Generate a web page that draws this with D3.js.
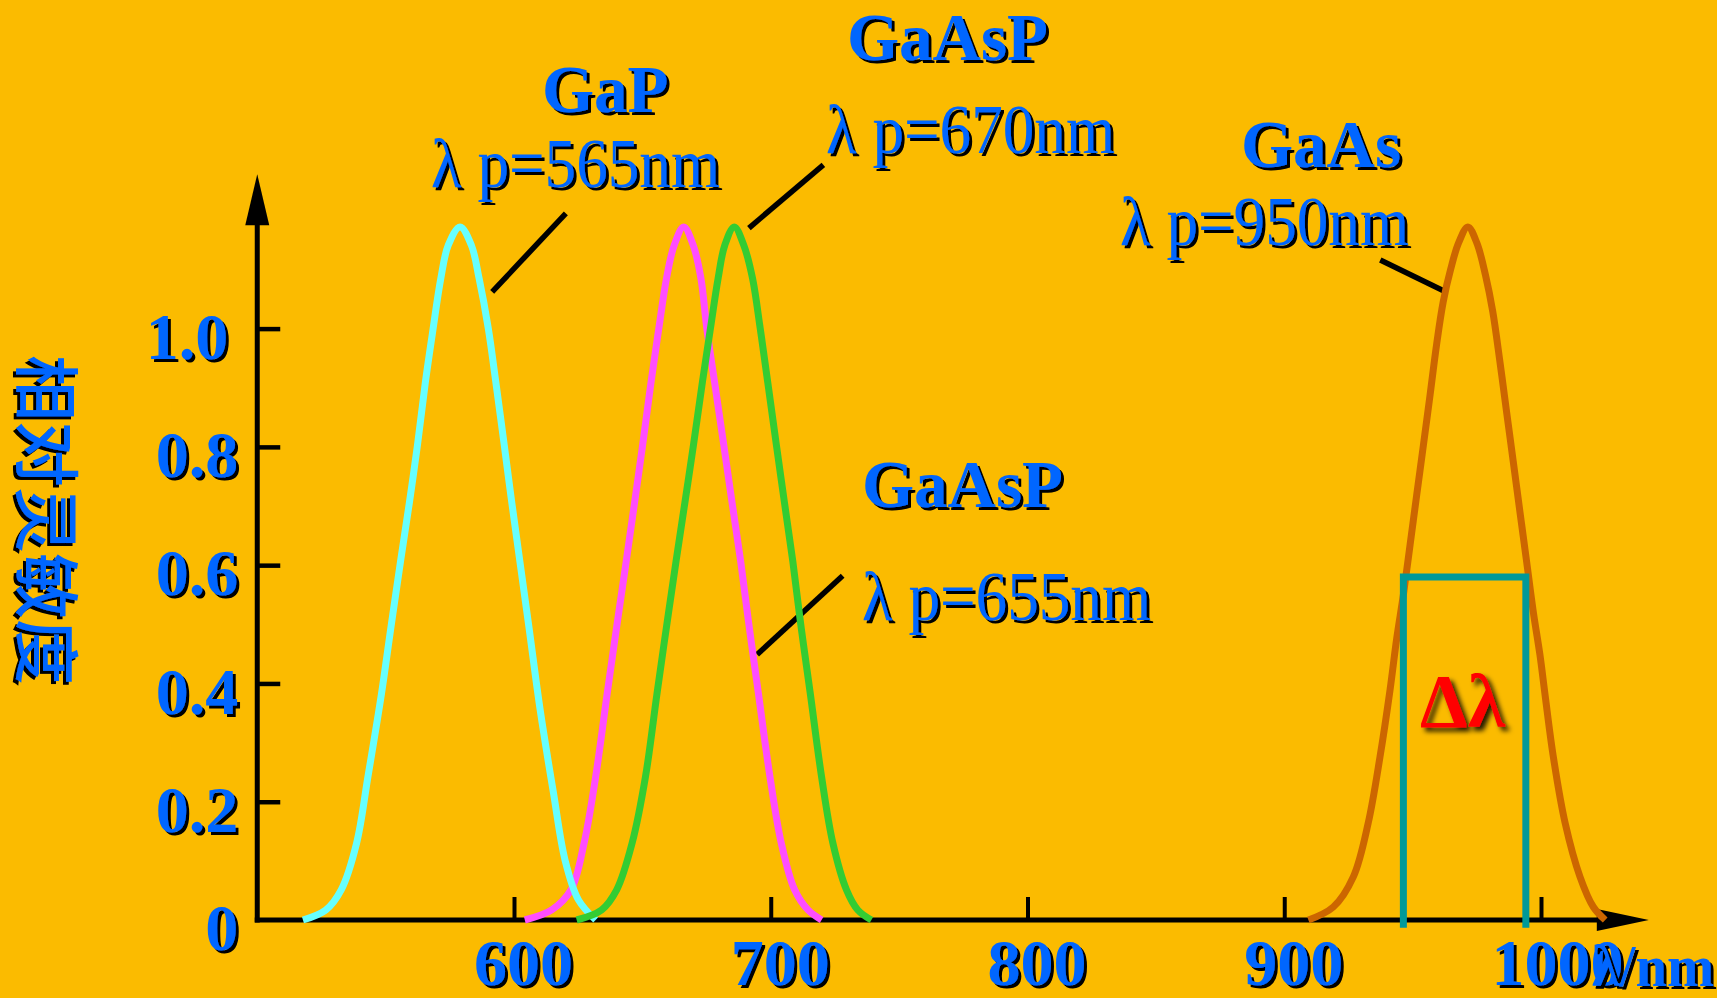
<!DOCTYPE html>
<html>
<head>
<meta charset="utf-8">
<script src="https://cdn.jsdelivr.net/npm/d3@7/dist/d3.min.js"></script>
<style>
    html, body { margin: 0; padding: 0; background: #FBBB00; }
    svg { display: block; }
</style>
</head>
<body>
<div id="chart"></div>
<script>
"use strict";

// axis ticks
const xTicks = [600, 700, 800, 900, 1000];
const yTicks = [0, 0.2, 0.4, 0.6, 0.8, 1.0];
const yTickLabels = ["0", "0.2", "0.4", "0.6", "0.8", "1.0"];

// spectra: [wavelength nm, relative sensitivity]
const gapCurve = [
    [517.8, 0], [526.7, 0.017], [532.7, 0.051], [538.7, 0.130], [543.1, 0.242],
    [548.4, 0.383], [552.1, 0.496], [555.8, 0.606], [559.3, 0.707], [562.4, 0.803],
    [565.5, 0.910], [568.5, 1.000], [571.5, 1.085], [574.4, 1.141], [579.0, 1.172],
    [583.4, 1.141], [586.4, 1.085], [590.0, 1.000], [592.9, 0.910], [596.2, 0.803],
    [599.1, 0.707], [602.3, 0.606], [605.8, 0.496], [610.2, 0.355], [615.4, 0.214],
    [619.9, 0.101], [625.1, 0.034], [631.8, 0]
];
const gaasp655Curve = [
    [604.2, 0], [614.7, 0.017], [622.2, 0.051], [627.3, 0.130], [631.8, 0.242],
    [636.3, 0.383], [640.0, 0.496], [643.7, 0.606], [647.0, 0.707], [650.1, 0.803],
    [653.4, 0.910], [656.4, 1.000], [659.4, 1.085], [662.4, 1.141], [666.1, 1.172],
    [669.8, 1.141], [672.8, 1.085], [675.1, 1.000], [678.1, 0.910], [681.7, 0.803],
    [684.9, 0.707], [688.3, 0.606], [691.6, 0.496], [695.2, 0.383], [699.7, 0.242],
    [704.1, 0.130], [709.3, 0.051], [714.5, 0.017], [719.8, 0]
];
const gaasp670Curve = [
    [624.4, 0], [634.1, 0.017], [640.0, 0.051], [646.0, 0.130], [651.2, 0.242],
    [655.7, 0.383], [659.4, 0.496], [663.1, 0.606], [666.6, 0.707], [669.9, 0.803],
    [673.4, 0.910], [676.5, 1.000], [679.5, 1.085], [682.1, 1.141], [685.8, 1.172],
    [689.5, 1.141], [692.9, 1.085], [695.9, 1.000], [698.8, 0.910], [702.2, 0.803],
    [705.3, 0.707], [708.6, 0.606], [711.8, 0.496], [715.4, 0.383], [719.8, 0.242],
    [724.2, 0.130], [729.5, 0.051], [733.9, 0.017], [739.2, 0]
];
const gaasCurve = [
    [909.4, 0], [919.1, 0.022], [926.9, 0.073], [932.7, 0.164], [937.3, 0.276],
    [941.2, 0.389], [943.8, 0.476], [946.4, 0.550], [949.0, 0.634], [951.6, 0.719],
    [954.2, 0.803], [956.8, 0.888], [959.3, 0.972], [961.9, 1.045], [964.8, 1.100],
    [967.9, 1.145], [971.5, 1.172], [975.0, 1.145], [978.4, 1.090], [981.2, 1.029],
    [984.0, 0.944], [986.6, 0.859], [989.2, 0.775], [991.8, 0.690], [994.4, 0.606],
    [997.0, 0.521], [999.6, 0.448], [1001.6, 0.380], [1004.8, 0.276], [1009.4, 0.164],
    [1015.2, 0.073], [1020.4, 0.022], [1025.0, 0]
];

// half-width box on the GaAs curve: [left nm, right nm, top value, bottom value]
const deltaBox = [946.4, 994.1, 0.58, -0.013];

// leader lines from labels to curves: [[nm, value], [nm, value]]
const leaders = [
    [[620.2, 1.195], [591.5, 1.062]],
    [[720.5, 1.277], [691.5, 1.170]],
    [[728.0, 0.582], [694.7, 0.449]],
    [[937.4, 1.116], [962.0, 1.064]]
];

const width = 1717;
const height = 998;
const blue = "#0066FF";
const serif = "'Liberation Serif', 'Times New Roman', serif";

const x = d3.scaleLinear().domain([600, 1000]).range([514, 1541]);
const y = d3.scaleLinear().domain([0, 1]).range([920, 328.6]);

const svg = d3.select("#chart")
    .append("svg")
    .attr("width", width)
    .attr("height", height);

svg.append("rect")
    .attr("width", width)
    .attr("height", height)
    .attr("fill", "#FBBB00");

const defs = svg.append("defs");
defs.append("filter")
    .attr("id", "shadow")
    .attr("x", "-10%").attr("y", "-10%")
    .attr("width", "130%").attr("height", "130%")
    .append("feDropShadow")
    .attr("dx", 3).attr("dy", 3)
    .attr("stdDeviation", 0.3)
    .attr("flood-color", "#000")
    .attr("flood-opacity", 1);
defs.append("filter")
    .attr("id", "soft")
    .attr("x", "-20%").attr("y", "-20%")
    .attr("width", "150%").attr("height", "150%")
    .append("feDropShadow")
    .attr("dx", 4).attr("dy", 4)
    .attr("stdDeviation", 2.5)
    .attr("flood-color", "#000")
    .attr("flood-opacity", 0.85);

// axes lines + arrows
const x0 = x(500);
const y0 = y(0);
const yTip = y(1.261);
const xTip = x(1042);

svg.append("line")
    .attr("x1", x0).attr("y1", y0 + 2.5)
    .attr("x2", x0).attr("y2", yTip + 30)
    .attr("stroke", "#000").attr("stroke-width", 5);
svg.append("path")
    .attr("d", `M${x0},${yTip} L${x0 - 12},${yTip + 51} L${x0 + 12},${yTip + 51} Z`)
    .attr("fill", "#000");

svg.append("line")
    .attr("x1", x0 - 2.5).attr("y1", y0)
    .attr("x2", xTip - 30).attr("y2", y0)
    .attr("stroke", "#000").attr("stroke-width", 5);
svg.append("path")
    .attr("d", `M${xTip},${y0} L${xTip - 52},${y0 - 11} L${xTip - 52},${y0 + 11} Z`)
    .attr("fill", "#000");

// x axis ticks and labels
const xAxis = d3.axisBottom(x)
    .tickValues(xTicks)
    .tickSize(-23)
    .tickPadding(18)
    .tickFormat(d3.format("d"));
const gx = svg.append("g")
    .attr("transform", `translate(0,${y0})`)
    .call(xAxis);
gx.select(".domain").remove();
gx.selectAll(".tick line").attr("stroke", "#000").attr("stroke-width", 4);
gx.selectAll(".tick text")
    .attr("dx", d => d === 1000 ? 16 : 9)
    .attr("fill", blue)
    .attr("filter", "url(#shadow)")
    .style("font-family", serif)
    .style("font-weight", "bold")
    .style("font-size", "66px");

// y axis ticks and labels
const yAxis = d3.axisLeft(y)
    .tickValues(yTicks)
    .tickSize(-23)
    .tickPadding(19)
    .tickFormat((d, i) => yTickLabels[i]);
const gy = svg.append("g")
    .attr("transform", `translate(${x0},0)`)
    .call(yAxis);
gy.select(".domain").remove();
gy.selectAll(".tick line").attr("stroke", "#000").attr("stroke-width", 4.5);
gy.selectAll(".tick").filter(d => d === 0).select("line").remove();
gy.selectAll(".tick text")
    .attr("dy", "0.45em")
    .attr("dx", d => d === 1 ? -10 : 0)
    .attr("fill", blue)
    .attr("filter", "url(#shadow)")
    .style("font-family", serif)
    .style("font-weight", "bold")
    .style("font-size", "66px");

// axis titles
svg.append("text")
    .attr("transform", "translate(51,520) rotate(90)")
    .attr("text-anchor", "middle")
    .attr("dominant-baseline", "central")
    .attr("fill", blue)
    .attr("filter", "url(#shadow)")
    .style("font-family", "'Noto Sans CJK SC', sans-serif")
    .style("font-weight", "500")
    .style("font-size", "66px")
    .text("相对灵敏度");

svg.append("text")
    .attr("x", 1592).attr("y", 986)
    .attr("fill", blue)
    .attr("filter", "url(#shadow)")
    .style("font-family", serif)
    .style("font-weight", "bold")
    .style("font-size", "60px")
    .attr("textLength", 122)
    .attr("lengthAdjust", "spacingAndGlyphs")
    .text("λ/nm");

// leader lines
svg.append("g").selectAll("line")
    .data(leaders)
    .join("line")
    .attr("x1", d => x(d[0][0])).attr("y1", d => y(d[0][1]))
    .attr("x2", d => x(d[1][0])).attr("y2", d => y(d[1][1]))
    .attr("stroke", "#000")
    .attr("stroke-width", 5.5);

// spectra
const line = d3.line()
    .x(d => x(d[0]))
    .y(d => y(d[1]))
    .curve(d3.curveCatmullRom.alpha(0.5));

const series = [
    { data: gaasp655Curve, color: "#FF4DFF" },
    { data: gapCurve, color: "#66FFFF" },
    { data: gaasp670Curve, color: "#33CC33" },
    { data: gaasCurve, color: "#CC6600" }
];
svg.append("g").selectAll("path")
    .data(series)
    .join("path")
    .attr("d", d => line(d.data))
    .attr("fill", "none")
    .attr("stroke", d => d.color)
    .attr("stroke-width", 7);

// delta lambda box
svg.append("path")
    .attr("d", `M${x(deltaBox[0])},${y(deltaBox[3])} L${x(deltaBox[0])},${y(deltaBox[2])}` +
        ` L${x(deltaBox[1])},${y(deltaBox[2])} L${x(deltaBox[1])},${y(deltaBox[3])}`)
    .attr("fill", "none")
    .attr("stroke", "#009999")
    .attr("stroke-width", 7)
    .attr("stroke-linejoin", "miter");

svg.append("text")
    .attr("x", 1420).attr("y", 727)
    .attr("fill", "#FF0000")
    .attr("filter", "url(#soft)")
    .style("font-family", serif)
    .style("font-weight", "bold")
    .style("font-size", "76px")
    .text("Δλ");

// curve labels
const labels = [
    { text: "GaP", x: 542, y: 112, bold: true },
    { text: "λ p=565nm", x: 431, y: 187, bold: false },
    { text: "GaAsP", x: 847, y: 60, bold: true },
    { text: "λ p=670nm", x: 826, y: 153, bold: false },
    { text: "GaAsP", x: 862, y: 507, bold: true },
    { text: "λ p=655nm", x: 862, y: 620, bold: false },
    { text: "GaAs", x: 1241, y: 167, bold: true },
    { text: "λ p=950nm", x: 1120, y: 245, bold: false }
];
const lbl = svg.append("g").selectAll("text")
    .data(labels)
    .join("text")
    .attr("x", d => d.x)
    .attr("y", d => d.y)
    .attr("fill", blue)
    .attr("filter", "url(#shadow)")
    .style("font-family", serif)
    .style("font-weight", d => d.bold ? "bold" : "normal")
    .style("font-size", d => d.bold ? "67px" : "69px")
    .text(d => d.text);
lbl.filter(d => !d.bold)
    .attr("textLength", 289)
    .attr("lengthAdjust", "spacingAndGlyphs");
</script>
</body>
</html>
